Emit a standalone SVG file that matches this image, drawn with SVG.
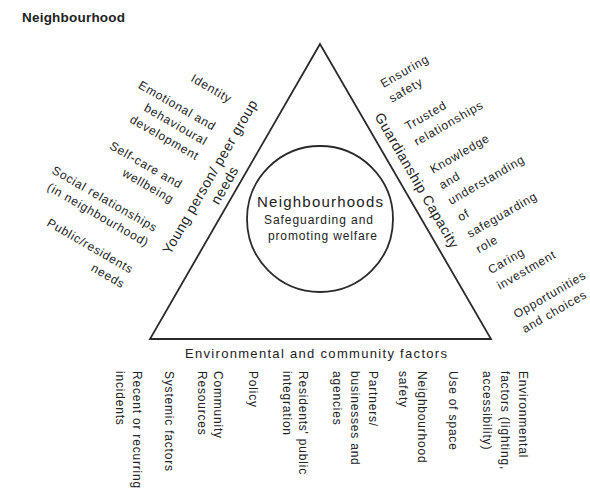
<svg xmlns="http://www.w3.org/2000/svg" width="590" height="489" viewBox="0 0 590 489">
  <style>
    text { font-family: "Liberation Sans", Arial, sans-serif; fill: #222; }
    .title { font-size: 13.5px; font-weight: bold; }
    .lbl { font-size: 12px; letter-spacing: 0.8px; }
    .side { font-size: 14px; letter-spacing: 0.6px; }
    .shape { fill: none; stroke: #2a2a2a; stroke-width: 1.8; }
  </style>
  <rect width="590" height="489" fill="#ffffff"/>

  <g id="title">
    <text class="title" x="22" y="22" textLength="103" lengthAdjust="spacing">Neighbourhood</text>
  </g>

  <g id="triangle">
    <polygon class="shape" points="320,44 150,339 491,339" stroke-linejoin="miter"/>
  </g>

  <g id="centre">
    <circle class="shape" cx="320" cy="219" r="73" stroke-width="1.6"/>
    <text x="320" y="207" text-anchor="middle" font-size="15" textLength="126" lengthAdjust="spacing">Neighbourhoods</text>
    <text x="318.5" y="224" text-anchor="middle" font-size="12" textLength="109" lengthAdjust="spacing">Safeguarding and</text>
    <text x="322.5" y="240" text-anchor="middle" font-size="12" textLength="109" lengthAdjust="spacing">promoting welfare</text>
  </g>

  <g id="young-person-needs" transform="rotate(-60)">
    <text class="side" x="-48" y="275" text-anchor="middle">Young person/ peer group</text>
    <text class="side" x="-48" y="292" text-anchor="middle">needs</text>
  </g>

  <g id="young-person-factors" transform="rotate(30)">
    <text class="lbl" x="250" y="-25" text-anchor="end">Identity</text>
    <text class="lbl" x="250" y="7" text-anchor="end">Emotional and</text>
    <text class="lbl" x="250" y="24" text-anchor="end">behavioural</text>
    <text class="lbl" x="250" y="41" text-anchor="end">development</text>
    <text class="lbl" x="250" y="74" text-anchor="end">Self-care and</text>
    <text class="lbl" x="250" y="91" text-anchor="end">wellbeing</text>
    <text class="lbl" x="250" y="124" text-anchor="end">Social relationships</text>
    <text class="lbl" x="250" y="141" text-anchor="end">(in neighbourhood)</text>
    <text class="lbl" x="250" y="172" text-anchor="end">Public/residents</text>
    <text class="lbl" x="250" y="189" text-anchor="end">needs</text>
  </g>

  <g id="guardianship" transform="rotate(60)">
    <text class="side" x="365" y="-266" text-anchor="middle">Guardianship Capacity</text>
  </g>

  <g id="guardianship-factors" transform="rotate(-30)">
    <text class="lbl" x="288" y="268">Ensuring</text>
    <text class="lbl" x="288" y="285">safety</text>
    <text class="lbl" x="288" y="317">Trusted</text>
    <text class="lbl" x="288" y="335">relationships</text>
    <text class="lbl" x="288" y="367">Knowledge</text>
    <text class="lbl" x="288" y="385">and</text>
    <text class="lbl" x="288" y="403">understanding</text>
    <text class="lbl" x="288" y="422">of</text>
    <text class="lbl" x="288" y="441">safeguarding</text>
    <text class="lbl" x="288" y="459">role</text>
    <text class="lbl" x="288" y="483">Caring</text>
    <text class="lbl" x="288" y="501">investment</text>
    <text class="lbl" x="288" y="534">Opportunities</text>
    <text class="lbl" x="288" y="551">and choices</text>
  </g>

  <g id="environment">
    <text x="316" y="358" text-anchor="middle" font-size="13" textLength="262" lengthAdjust="spacing">Environmental and community factors</text>
  </g>

  <g id="environment-factors" transform="rotate(90)">
    <text class="lbl" x="371" y="-133">Recent or recurring</text>
    <text class="lbl" x="371" y="-116">incidents</text>
    <text class="lbl" x="371" y="-165">Systemic factors</text>
    <text class="lbl" x="371" y="-214">Community</text>
    <text class="lbl" x="371" y="-198">Resources</text>
    <text class="lbl" x="371" y="-249">Policy</text>
    <text class="lbl" x="371" y="-299">Residents' public</text>
    <text class="lbl" x="371" y="-283">integration</text>
    <text class="lbl" x="371" y="-369">Partners/</text>
    <text class="lbl" x="371" y="-351">businesses and</text>
    <text class="lbl" x="371" y="-333">agencies</text>
    <text class="lbl" x="371" y="-418">Neighbourhood</text>
    <text class="lbl" x="371" y="-399">safety</text>
    <text class="lbl" x="371" y="-449">Use of space</text>
    <text class="lbl" x="371" y="-519">Environmental</text>
    <text class="lbl" x="371" y="-501">factors (lighting,</text>
    <text class="lbl" x="371" y="-483">accessibility)</text>
  </g>
</svg>
